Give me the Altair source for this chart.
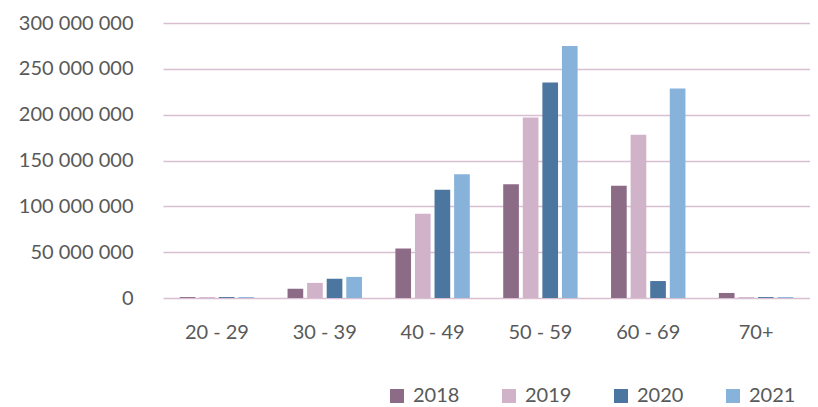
import altair as alt
import pandas as pd

categories = ["20 - 29", "30 - 39", "40 - 49", "50 - 59", "60 - 69", "70+"]
years = ["2018", "2019", "2020", "2021"]
v2018 = [1_000_000, 10_000_000, 54_000_000, 124_000_000, 122_500_000, 5_500_000]
v2019 = [1_000_000, 16_500_000, 92_000_000, 197_000_000, 178_000_000, 1_000_000]
v2020 = [1_000_000, 21_000_000, 118_000_000, 235_000_000, 18_500_000, 1_000_000]
v2021 = [1_000_000, 23_000_000, 135_000_000, 275_000_000, 228_500_000, 1_000_000]
colors = ["#8C6B86", "#D1B3C9", "#4A76A0", "#87B2D9"]

rows = []
for yr, vals in zip(years, [v2018, v2019, v2020, v2021]):
    for c, v in zip(categories, vals):
        rows.append({"age": c, "year": yr, "value": v})
df = pd.DataFrame(rows)

FONT = "Lato"
GREY = "#595959"

chart = alt.Chart(df).mark_bar().encode(
    x=alt.X("age:N", sort=categories, title=None,
            scale=alt.Scale(paddingInner=0.31, paddingOuter=0.155),
            axis=alt.Axis(labelAngle=0, domain=False, ticks=False, labelPadding=24,
                          labelFontSize=20, labelColor=GREY, labelFont=FONT)),
    xOffset=alt.XOffset("year:N", sort=years, scale=alt.Scale(paddingInner=0.2, paddingOuter=0)),
    y=alt.Y("value:Q", title=None,
            scale=alt.Scale(domain=[0, 300_000_000], nice=False),
            axis=alt.Axis(values=[0, 50_000_000, 100_000_000, 150_000_000, 200_000_000,
                                  250_000_000, 300_000_000],
                          labelExpr="replace(format(datum.value, ','), regexp(',', 'g'), ' ')",
                          domain=False, ticks=False, labelPadding=30,
                          labelFontSize=20, labelColor=GREY, labelFont=FONT,
                          grid=True, gridColor="#D8C0D2", gridWidth=1.5)),
    color=alt.Color("year:N", sort=years, title=None,
                    scale=alt.Scale(domain=years, range=colors),
                    legend=alt.Legend(orient="none", direction="horizontal",
                                      legendX=224, legendY=363,
                                      symbolType="square", symbolSize=196,
                                      symbolStrokeWidth=0, symbolOpacity=1,
                                      labelFontSize=20, labelColor=GREY, labelFont=FONT,
                                      columnPadding=39, padding=0, labelOffset=6)),
).properties(
    width=647, height=275,
    padding={"left": 155, "top": 15, "right": 0, "bottom": 109},
    autosize=alt.AutoSizeParams(type="none"),
).configure_view(stroke=None)

chart.save("out.html", embed_options={"renderer": "svg", "actions": False})
